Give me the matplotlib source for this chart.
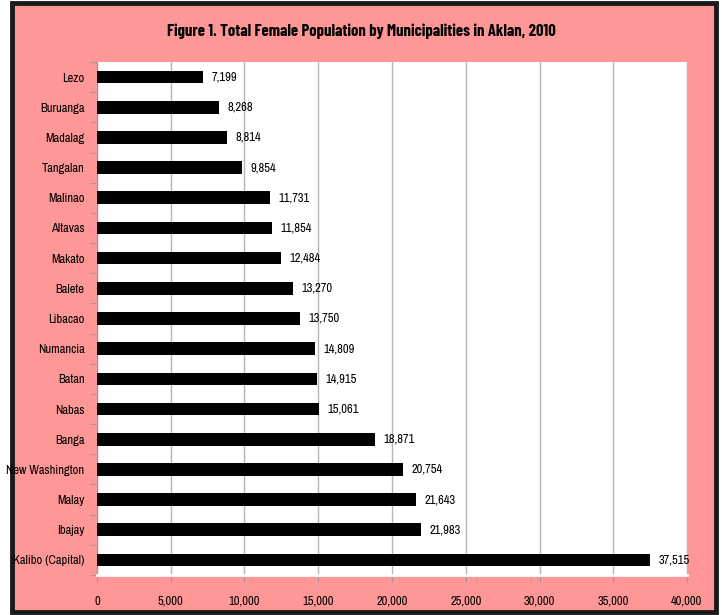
import matplotlib
matplotlib.use("Agg")
import matplotlib.pyplot as plt
from matplotlib.patches import Rectangle
from matplotlib import font_manager
import numpy as np

municipalities = ["Lezo", "Buruanga", "Madalag", "Tangalan", "Malinao", "Altavas", "Makato",
                  "Balete", "Libacao", "Numancia", "Batan", "Nabas", "Banga", "New Washington",
                  "Malay", "Ibajay", "Kalibo (Capital)"]
female_pop = [7199, 8268, 8814, 9854, 11731, 11854, 12484, 13270, 13750, 14809, 14915,
              15061, 18871, 20754, 21643, 21983, 37515]
x_ticks = [0, 5000, 10000, 15000, 20000, 25000, 30000, 35000, 40000]
title = "Figure 1. Total Female Population by Municipalities in Aklan, 2010"

fonts = font_manager.fontManager.ttflist
names = {f.name for f in fonts}
fam = "DejaVu Sans"
for cand in ["Liberation Sans Narrow", "Arial Narrow", "Archivo Narrow", "Roboto Condensed",
             "Barlow Semi Condensed"]:
    if cand in names:
        fam = cand
        break
bold_fam = fam
for cand in ["Liberation Sans Narrow", "Arial Narrow", "Barlow Condensed", "Roboto Condensed",
             "Barlow Semi Condensed", "Asap Condensed"]:
    if any(f.name == cand and (f.weight in (700, "bold")) for f in fonts):
        bold_fam = cand
        break
plt.rcParams['font.family'] = [fam, 'DejaVu Sans']

pink = "#FF9797"
fig = plt.figure(figsize=(7.22, 6.15), dpi=100)
fig.patch.set_facecolor("white")
W, H = 722, 615
bg = Rectangle((12/W, 3/H), (716-12)/W, (612-3)/H, transform=fig.transFigure,
               facecolor=pink, edgecolor="#1a1a1a", linewidth=3.5, zorder=-10)
fig.patches.append(bg)

ax = fig.add_axes([97/W, 1-575/H, (687-97)/W, (575-62)/H])
ax.set_facecolor("white")
n = len(municipalities)
y = np.arange(n)
ax.barh(y, female_pop, height=0.42, color="black", zorder=3)
ax.set_ylim(n-0.5, -0.5)
ax.set_xlim(0, 40000)
ax.set_xticks(x_ticks)
ax.set_xticklabels([f"{v:,}" for v in x_ticks], fontsize=9)
ax.set_yticks(y)
ax.set_yticklabels(municipalities, fontsize=9)
ax.set_yticks(np.arange(-0.5, n, 1), minor=True)
ax.tick_params(axis='y', which='major', length=0, pad=9)
ax.tick_params(axis='y', which='minor', length=5, color="#999999", direction='out')
ax.tick_params(axis='x', which='major', length=5, color="#999999", direction='out', pad=10)
ax.grid(axis='x', color="#B5B5B5", linewidth=1, zorder=0)
for s in ["top", "right"]:
    ax.spines[s].set_visible(False)
ax.spines["left"].set_color("#999999")
ax.spines["bottom"].set_color("white")
ax.spines["bottom"].set_linewidth(2)

for yi, v in zip(y, female_pop):
    ax.annotate(f"{v:,}", (v, yi), xytext=(6, 0), textcoords="offset points",
                va="center", ha="left", fontsize=9, zorder=4)

fig.text(361/W, 1-31/H, title, ha="center", va="center", fontsize=12, fontweight="bold",
         family=[bold_fam, 'DejaVu Sans'])
fig.savefig("out.png", dpi=100, facecolor=fig.get_facecolor())
